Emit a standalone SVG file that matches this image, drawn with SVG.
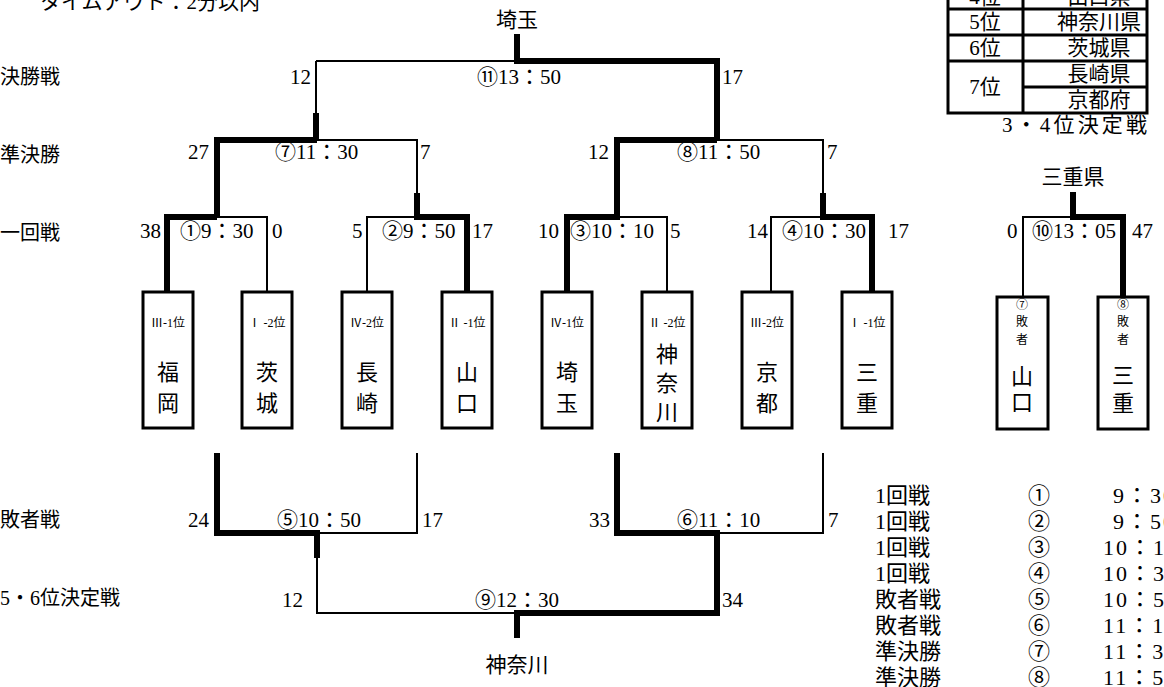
<svg xmlns="http://www.w3.org/2000/svg" width="1164" height="687" viewBox="0 0 1164 687" font-family="'Liberation Serif', 'Noto Sans CJK JP', serif">
<style>
text{font-family:"Liberation Serif","Noto Sans CJK JP",serif;fill:#000}
.lb{font-size:20px}
.s{font-size:21px}
.sch{font-size:22px}
.tm{font-size:22px;letter-spacing:2px}
.tb{font-size:21px}
.rk{font-size:12px;text-anchor:middle}
.big{font-size:22px;text-anchor:middle}
.sm{font-size:12px;text-anchor:middle}
.box{fill:#fff;stroke:#000;stroke-width:3}
.thin{fill:none;stroke:#000;stroke-width:2}
.thick{fill:none;stroke:#000;stroke-width:6;stroke-linejoin:miter}
.tl{fill:none;stroke:#000;stroke-width:3}
.m{text-anchor:middle}
.e{text-anchor:end}
</style>
<rect width="1164" height="687" fill="#fff"/>
<text class="s" x="40" y="9">タイムアウト：2分以内</text>
<g id="labels-left">
<text class="lb" x="0" y="84">決勝戦</text>
<text class="lb" x="0" y="162">準決勝</text>
<text class="lb" x="0" y="240">一回戦</text>
<text class="lb" x="0" y="527">敗者戦</text>
<text class="lb" x="0" y="605">5・6位決定戦</text>
</g>
<g id="connectors">
<path class="thin" d="M316,61V113M316,61H517M317,140H417V193M217,217H267V293M367,293V217H417M617,217H667V293M771,293V217H823M717,140H823V193M1023,297V217H1073M317,533H417V453M317,558V613H517M717,533H823V453"/>
<path class="thick" d="M517,34V61H717V140M316,113V140M317,140H217V217M217,217H167V293M417,193V217H467V293M567,293V217H617V140H717M823,193V217H872V293M1073,192V217H1123V297M217,453V533H317V558M617,453V533H717V613H517V638"/>
</g>
<g id="scores">
<text class="s m" x="517" y="27">埼玉</text>
<text class="s" x="290" y="84">12</text>
<text class="s" x="477" y="84">⑪13：50</text>
<text class="s" x="722" y="84">17</text>
<text class="s" x="188" y="159">27</text>
<text class="s" x="275" y="159">⑦11：30</text>
<text class="s" x="420" y="159">7</text>
<text class="s" x="588" y="159">12</text>
<text class="s" x="677" y="159">⑧11：50</text>
<text class="s" x="827" y="159">7</text>
<text class="s e" x="161" y="238">38</text>
<text class="s" x="180" y="238">①9：30</text>
<text class="s" x="272" y="238">0</text>
<text class="s" x="352" y="238">5</text>
<text class="s" x="382" y="238">②9：50</text>
<text class="s" x="472" y="238">17</text>
<text class="s" x="538" y="238">10</text>
<text class="s" x="570" y="238">③10：10</text>
<text class="s" x="670" y="238">5</text>
<text class="s" x="747" y="238">14</text>
<text class="s" x="782" y="238">④10：30</text>
<text class="s" x="888" y="238">17</text>
<text class="s" x="1007" y="238">0</text>
<text class="s" x="1032" y="238">⑩13：05</text>
<text class="s" x="1132" y="238">47</text>
<text class="s m" x="1073" y="184">三重県</text>
<text class="s" x="188" y="527">24</text>
<text class="s" x="277" y="527">⑤10：50</text>
<text class="s" x="422" y="527">17</text>
<text class="s" x="589" y="527">33</text>
<text class="s" x="677" y="527">⑥11：10</text>
<text class="s" x="828" y="527">7</text>
<text class="s" x="282" y="607">12</text>
<text class="s" x="475" y="607">⑨12：30</text>
<text class="s" x="722" y="607">34</text>
<text class="s m" x="517" y="672">神奈川</text>
</g>
<g id="n-fukuoka"><rect class="box" x="143" y="292" width="50" height="136"/><text class="rk" x="168" y="327">Ⅲ-1位</text><text class="big" x="168" y="380">福</text><text class="big" x="168" y="411">岡</text></g>
<g id="n-ibaraki"><rect class="box" x="242" y="292" width="50" height="136"/><text class="rk" x="267" y="327">Ⅰ -2位</text><text class="big" x="267" y="380">茨</text><text class="big" x="267" y="411">城</text></g>
<g id="n-nagasaki"><rect class="box" x="342" y="292" width="50" height="136"/><text class="rk" x="367" y="327">Ⅳ-2位</text><text class="big" x="367" y="380">長</text><text class="big" x="367" y="411">崎</text></g>
<g id="n-yamaguchi"><rect class="box" x="442" y="292" width="50" height="136"/><text class="rk" x="467" y="327">Ⅱ -1位</text><text class="big" x="467" y="380">山</text><text class="big" x="467" y="411">口</text></g>
<g id="n-saitama"><rect class="box" x="542" y="292" width="50" height="136"/><text class="rk" x="567" y="327">Ⅳ-1位</text><text class="big" x="567" y="380">埼</text><text class="big" x="567" y="411">玉</text></g>
<g id="n-kanagawa"><rect class="box" x="642" y="292" width="50" height="136"/><text class="rk" x="667" y="327">Ⅱ -2位</text><text class="big" x="667" y="362">神</text><text class="big" x="667" y="391">奈</text><text class="big" x="667" y="420">川</text></g>
<g id="n-kyoto"><rect class="box" x="742" y="292" width="50" height="136"/><text class="rk" x="767" y="327">Ⅲ-2位</text><text class="big" x="767" y="380">京</text><text class="big" x="767" y="411">都</text></g>
<g id="n-mie"><rect class="box" x="842" y="292" width="50" height="136"/><text class="rk" x="867" y="327">Ⅰ -1位</text><text class="big" x="867" y="380">三</text><text class="big" x="867" y="411">重</text></g>
<g id="n-loser7"><rect class="box" x="997" y="297" width="51" height="132"/><text class="sm" x="1022" y="309">⑦</text><text class="sm" x="1022" y="326">敗</text><text class="sm" x="1022" y="344">者</text><text class="big" x="1022" y="384">山</text><text class="big" x="1022" y="410">口</text></g>
<g id="n-loser8"><rect class="box" x="1098" y="297" width="50" height="132"/><text class="sm" x="1123" y="309">⑧</text><text class="sm" x="1123" y="326">敗</text><text class="sm" x="1123" y="344">者</text><text class="big" x="1123" y="383">三</text><text class="big" x="1123" y="411">重</text></g>
<g id="ranking">
<path class="tl" d="M948,-20V113H1147V-20M1023,-20V113M948,9H1147M948,35H1147M948,61H1147M1023,87H1147"/>
<text class="tb m" x="985" y="4">4位</text><text class="tb m" x="1099" y="4">山口県</text>
<text class="tb m" x="985" y="29">5位</text><text class="tb m" x="1099" y="29">神奈川県</text>
<text class="tb m" x="985" y="55">6位</text><text class="tb m" x="1099" y="55">茨城県</text>
<text class="tb m" x="985" y="94">7位</text><text class="tb m" x="1099" y="81">長崎県</text>
<text class="tb m" x="1099" y="107">京都府</text>
<text class="tb" x="1002" y="132" textLength="145" lengthAdjust="spacing">3・4位決定戦</text>
</g>
<g id="schedule">
<text class="sch" x="875" y="503">1回戦</text><text class="sch m" x="1039" y="503">①</text><text class="tm" x="1113" y="503">9：30</text>
<text class="sch" x="875" y="529">1回戦</text><text class="sch m" x="1039" y="529">②</text><text class="tm" x="1113" y="529">9：50</text>
<text class="sch" x="875" y="555">1回戦</text><text class="sch m" x="1039" y="555">③</text><text class="tm" x="1103" y="555">10：10</text>
<text class="sch" x="875" y="581">1回戦</text><text class="sch m" x="1039" y="581">④</text><text class="tm" x="1103" y="581">10：30</text>
<text class="sch" x="875" y="607">敗者戦</text><text class="sch m" x="1039" y="607">⑤</text><text class="tm" x="1103" y="607">10：50</text>
<text class="sch" x="875" y="633">敗者戦</text><text class="sch m" x="1039" y="633">⑥</text><text class="tm" x="1103" y="633">11：10</text>
<text class="sch" x="875" y="659">準決勝</text><text class="sch m" x="1039" y="659">⑦</text><text class="tm" x="1103" y="659">11：30</text>
<text class="sch" x="875" y="685">準決勝</text><text class="sch m" x="1039" y="685">⑧</text><text class="tm" x="1103" y="685">11：50</text>
</g>
</svg>
